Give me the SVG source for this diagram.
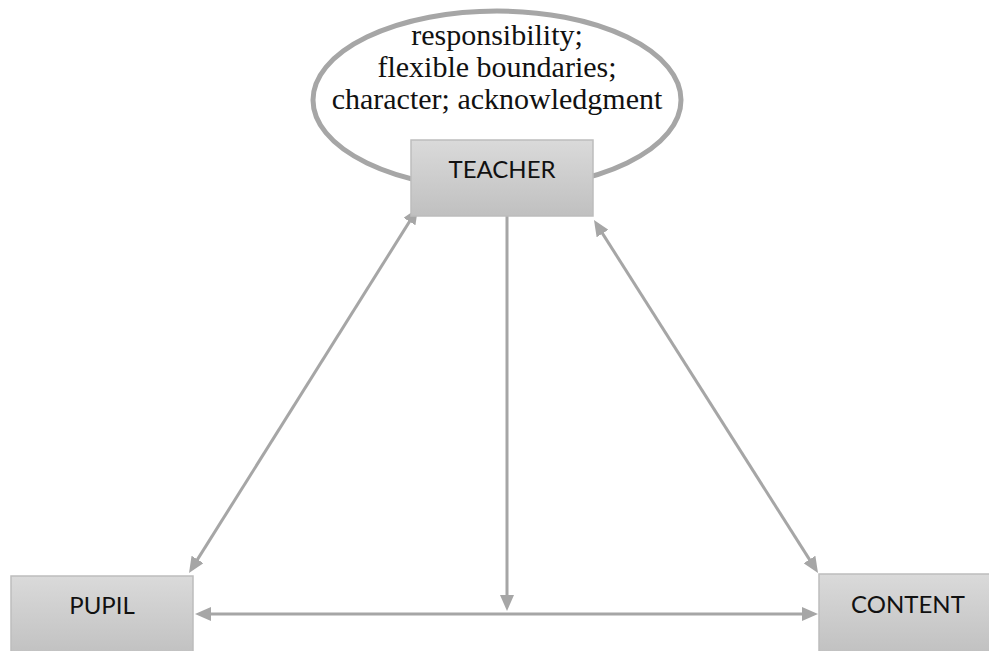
<svg xmlns="http://www.w3.org/2000/svg" width="989" height="651" viewBox="0 0 989 651">
  <style>
    .box { fill: url(#boxFill); stroke: #bdbdbd; stroke-width: 1.5; }
    .label { font-family: Lato, "Liberation Sans", sans-serif; font-size: 24px; fill: #111; text-anchor: middle; }
    .note { font-family: "Liberation Serif", serif; font-size: 30px; fill: #111; text-anchor: middle; }
    .link { stroke: #a6a6a6; stroke-width: 3; fill: none; }
  </style>
  <defs>
    <linearGradient id="boxFill" x1="0" y1="0" x2="0" y2="1">
      <stop offset="0" stop-color="#dadada"/>
      <stop offset="1" stop-color="#c0c0c0"/>
    </linearGradient>
    <marker id="head" markerUnits="userSpaceOnUse" viewBox="0 0 16 14" markerWidth="16" markerHeight="14" refX="10" refY="7" orient="auto-start-reverse">
      <path d="M0,0 L16,7 L0,14 z" fill="#a6a6a6"/>
    </marker>
  </defs>

  <!-- qualities surrounding the teacher -->
  <g id="qualities">
    <ellipse cx="497" cy="100" rx="184" ry="89" fill="#fff" stroke="#a6a6a6" stroke-width="5"/>
    <text class="note" x="497" y="45">responsibility;</text>
    <text class="note" x="497" y="77">flexible boundaries;</text>
    <text class="note" x="497" y="109">character; acknowledgment</text>
  </g>

  <g id="connectors">
    <line class="link" x1="192.2" y1="567.9" x2="414.8" y2="213.1" marker-start="url(#head)" marker-end="url(#head)"/>
    <line class="link" x1="597.2" y1="225.1" x2="814.8" y2="567.9" marker-start="url(#head)" marker-end="url(#head)"/>
    <line class="link" x1="507" y1="207" x2="507" y2="605" marker-end="url(#head)"/>
    <line class="link" x1="201" y1="614" x2="812" y2="614" marker-start="url(#head)" marker-end="url(#head)"/>
  </g>

  <g id="teacher">
    <rect class="box" x="411" y="140" width="182" height="76"/>
    <text class="label" x="502" y="178">TEACHER</text>
  </g>

  <g id="pupil">
    <rect class="box" x="11" y="576" width="182" height="82"/>
    <text class="label" x="102" y="614">PUPIL</text>
  </g>

  <g id="content">
    <rect class="box" x="819" y="574" width="182" height="82"/>
    <text class="label" x="908" y="613">CONTENT</text>
  </g>
</svg>
